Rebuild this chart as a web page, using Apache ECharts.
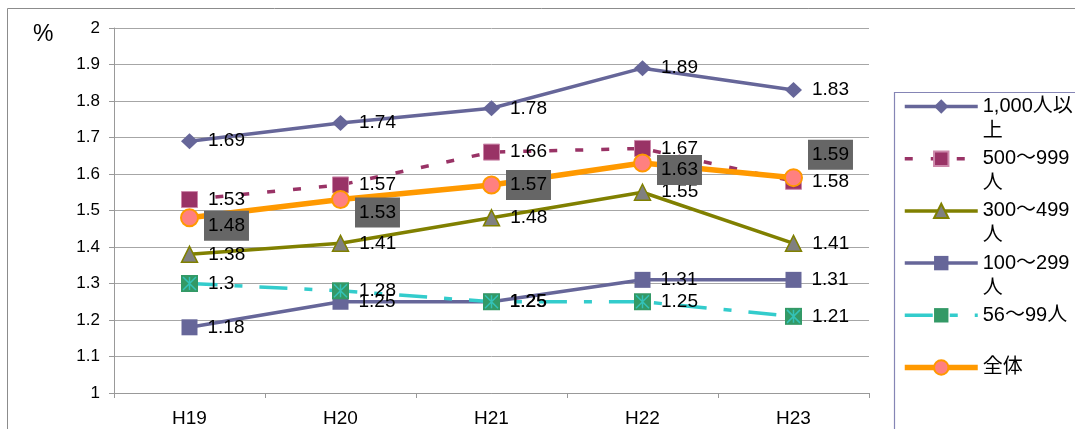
<!DOCTYPE html>
<html><head><meta charset="utf-8">
<script src="https://cdn.jsdelivr.net/npm/echarts@6/dist/echarts.min.js"></script>
<style>html,body{margin:0;padding:0;background:#fff}#c{width:1075px;height:429px}</style>
</head><body><div id="c"></div>
<script>
const categories = ['H19', 'H20', 'H21', 'H22', 'H23'];
const s1000 = [1.69, 1.74, 1.78, 1.89, 1.83];
const s500 = [1.53, 1.57, 1.66, 1.67, 1.58];
const s300 = [1.38, 1.41, 1.48, 1.55, 1.41];
const s100 = [1.18, 1.25, 1.25, 1.31, 1.31];
const s56 = [1.3, 1.28, 1.25, 1.25, 1.21];
const sAll = [1.48, 1.53, 1.57, 1.63, 1.59];
const seriesNames = ['1,000人以上', '500〜999人', '300〜499人', '100〜299人', '56〜99人', '全体'];
const legendLabels = ['1,000人以\n上', '500〜999\n人', '300〜499\n人', '100〜299\n人', '56〜99人\n ', '全体\n '];

const FONT = "'Liberation Sans','Noto Sans CJK JP',sans-serif";
const allNudge = [8, 13, 0, 7, -23];
const lbl = { show: true, position: 'right', distance: 10, color: '#000', fontSize: 19, fontFamily: FONT };

const chart = echarts.init(document.getElementById('c'));
const legendWidths = [3.5, 3.5, 3.5, 3.5, 3.5, 5.5];
chart.setOption({
  animation: false,
  backgroundColor: '#fff',
  grid: { left: 114, right: 206, top: 28, bottom: 36 },
  graphic: [
    { type: 'rect', shape: { x: 7.5, y: 8.5, width: 1100, height: 500 }, style: { fill: 'none', stroke: '#8c8c8c', lineWidth: 1 }, silent: true },
    { type: 'rect', shape: { x: 894.5, y: 92.5, width: 200, height: 340 }, style: { fill: 'none', stroke: '#8585b5', lineWidth: 1.2 }, silent: true },
    { type: 'text', left: 33, top: 23, style: { text: '%', fontSize: 23, fontFamily: FONT, fill: '#000' } }
  ],
  legend: {
    orient: 'vertical', left: 902, top: 69, padding: 0, itemGap: -22.8,
    itemWidth: 73, itemHeight: 18,
    data: seriesNames.map((n, i) => ({ name: n, lineStyle: { width: legendWidths[i] } })),
    formatter: name => ' \n' + legendLabels[seriesNames.indexOf(name)],
    textStyle: { fontSize: 20, lineHeight: 25, color: '#000', fontFamily: FONT }
  },
  xAxis: {
    type: 'category', data: categories, boundaryGap: true,
    axisLine: { lineStyle: { color: '#999' } },
    axisTick: { show: true, length: 5, lineStyle: { color: '#999' } },
    axisLabel: { color: '#000', fontSize: 19, fontFamily: FONT, margin: 16 }
  },
  yAxis: {
    type: 'value', min: 1, max: 2, interval: 0.1,
    axisLine: { show: true, lineStyle: { color: '#999' } },
    axisTick: { show: true, length: 5, lineStyle: { color: '#999' } },
    axisLabel: { color: '#000', fontSize: 17, fontFamily: FONT, margin: 14 },
    splitLine: { lineStyle: { color: '#a6a6a6', width: 1 } }
  },
  series: [
    { name: seriesNames[0], type: 'line', data: s1000, symbol: 'diamond', symbolSize: [17, 16],
      lineStyle: { color: '#666699', width: 3.5 }, itemStyle: { color: '#666699' }, label: lbl },
    { name: seriesNames[1], type: 'line', data: s500, symbol: 'rect', symbolSize: 16,
      lineStyle: { color: '#993366', width: 3.5, type: [8, 18] }, itemStyle: { color: '#993366', borderColor: '#cc88aa', borderWidth: 1 }, label: lbl },
    { name: seriesNames[2], type: 'line', data: s300, symbol: 'triangle', symbolSize: 16,
      lineStyle: { color: '#808000', width: 3.5 }, itemStyle: { color: '#808080', borderColor: '#808000', borderWidth: 1.5 }, label: lbl },
    { name: seriesNames[3], type: 'line', data: s100, symbol: 'rect', symbolSize: 16,
      lineStyle: { color: '#666699', width: 3.5 }, itemStyle: { color: '#666699' }, label: lbl },
    { name: seriesNames[4], type: 'line', data: s56, symbol: 'rect', symbolSize: 17,
      lineStyle: { color: '#33cccc', width: 3.5, type: [28, 17, 8, 17] }, itemStyle: { color: '#339966' }, label: lbl },
    { type: 'scatter', data: s56, symbol: 'path://M0,0L10,10M10,0L0,10M5,0L5,10', symbolSize: 13, silent: true, z: 3,
      itemStyle: { color: 'rgba(0,0,0,0)', borderColor: '#33cccc', borderWidth: 1.5 } },
    { name: seriesNames[5], type: 'line', symbol: 'circle', symbolSize: 17,
      data: sAll.map((v, i) => ({ value: v, label: { offset: [0, allNudge[i]] } })),
      lineStyle: { color: '#ff9900', width: 5.5 }, itemStyle: { color: '#ff8080', borderColor: '#ff9900', borderWidth: 2 },
      label: Object.assign({}, lbl, { distance: 5, backgroundColor: '#666666', padding: [6, 4, 5, 4] }) }
  ]
});
</script></body></html>
